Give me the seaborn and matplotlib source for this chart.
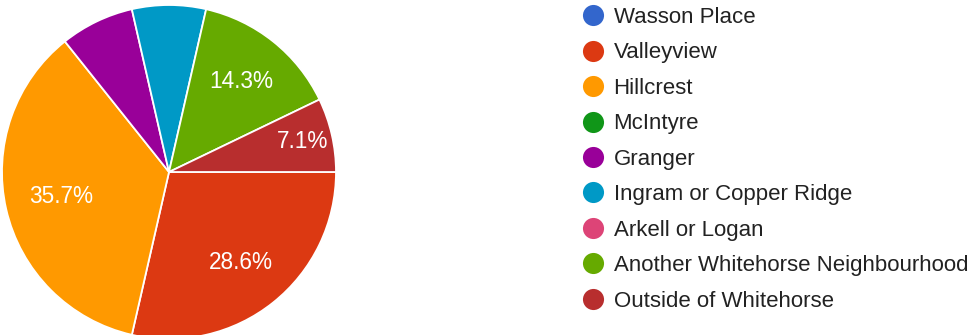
import matplotlib
matplotlib.use("Agg")
import matplotlib.pyplot as plt
from matplotlib.lines import Line2D
import numpy as np
import seaborn as sns

# Survey responses: which neighbourhood do you live in?
neighbourhoods = [
    "Wasson Place",
    "Valleyview",
    "Hillcrest",
    "McIntyre",
    "Granger",
    "Ingram or Copper Ridge",
    "Arkell or Logan",
    "Another Whitehorse Neighbourhood",
    "Outside of Whitehorse",
]
responses = [0, 4, 5, 0, 1, 1, 0, 2, 1]
colors = ["#3366cc", "#dc3912", "#ff9900", "#109618", "#990099",
          "#0099c6", "#dd4477", "#66aa00", "#b82e2e"]
# slices too narrow at the top of the pie to carry a label
unlabelled = {"Granger", "Ingram or Copper Ridge"}

sns.set_theme(style="white")
plt.rcParams["font.family"] = ["Liberation Sans", "DejaVu Sans"]

W, H, DPI = 970, 335, 100
fig = plt.figure(figsize=(W / DPI, H / DPI), dpi=DPI)
fig.patch.set_facecolor("white")

# pie axes: centre (169, 172) px from top-left, radius 167 px
cx, cy, r = 169, 172, 167
ax = fig.add_axes([(cx - r) / W, (H - cy - r) / H, 2 * r / W, 2 * r / H])

total = sum(responses)
shown = [(n, v, c) for n, v, c in zip(neighbourhoods, responses, colors) if v > 0]
vals = [v for _, v, _ in shown]
wedges, _ = ax.pie(
    vals,
    colors=[c for _, _, c in shown],
    startangle=0,
    counterclock=False,
    radius=1,
    wedgeprops=dict(edgecolor="white", linewidth=1.3),
    frame=True,
)
ax.set_xlim(-1, 1)
ax.set_ylim(-1, 1)
ax.axis("off")

# percentage labels inside the slices; small slices push the label outward
for (name, v, _), w in zip(shown, wedges):
    if name in unlabelled:
        continue
    mid = np.deg2rad((w.theta1 + w.theta2) / 2)
    frac = v / total
    if frac < 0.1:
        dist = 0.82
    elif frac > 0.3:
        dist = 0.66
    else:
        dist = 0.69
    ax.text(dist * np.cos(mid), dist * np.sin(mid), f"{100 * frac:.1f}%",
            ha="center", va="center", color="white", fontsize=16.3)

# legend listing every option, including those with no responses
handles = [Line2D([], [], ls="", marker="o", markersize=15.2,
                  markerfacecolor=c, markeredgewidth=0)
           for c in colors]
fig.legend(handles, neighbourhoods, loc="upper left",
           bbox_to_anchor=(582.5 / W, 1 - 7 / H), frameon=False,
           fontsize=16, borderpad=0, borderaxespad=0,
           handlelength=0.95, handletextpad=0.45, labelspacing=0.65,
           labelcolor="#222222")

fig.savefig("out.png", dpi=DPI, facecolor="white")
